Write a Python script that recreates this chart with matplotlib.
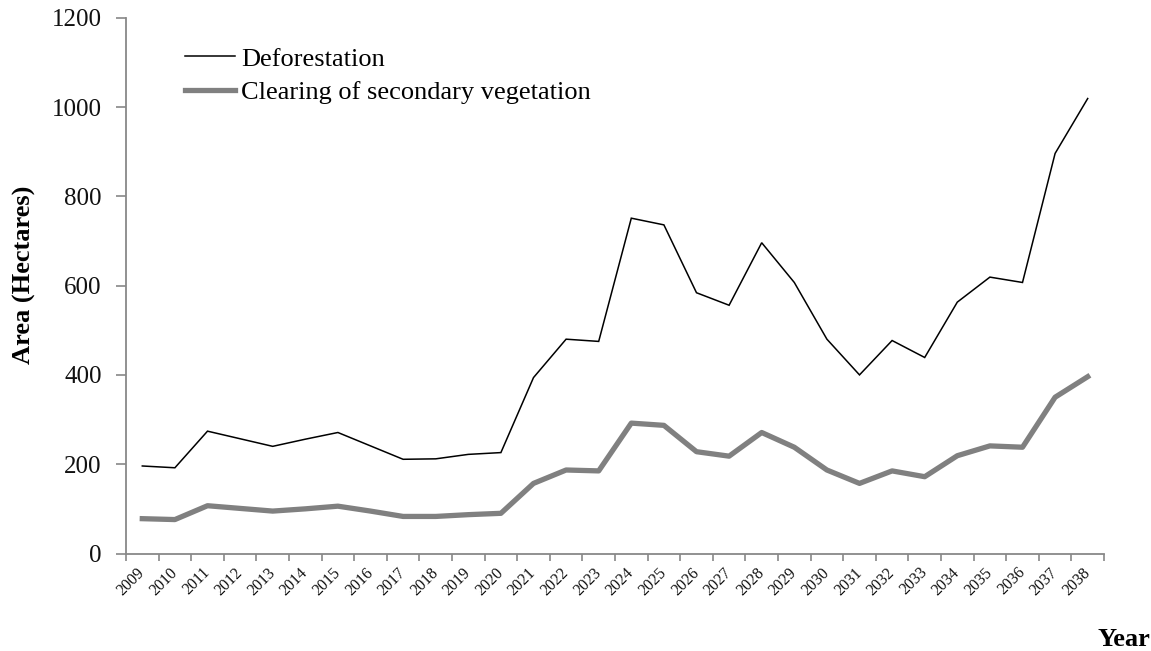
import matplotlib
matplotlib.use("Agg")
import matplotlib.pyplot as plt
import numpy as np

years = [str(y) for y in range(2009, 2039)]
deforestation = [196, 192, 274, 257, 240, 256, 271, 241, 211, 212, 222, 226,
                 394, 480, 475, 751, 736, 584, 556, 696, 607, 480,
                 400, 477, 439, 563, 619, 607, 896, 1019]
clearing = [78, 76, 107, 101, 95, 100, 106, 95, 83, 83, 87, 90,
            157, 187, 185, 292, 287, 228, 218, 271, 238, 187,
            157, 185, 172, 219, 241, 238, 350, 396]
yticks = [0, 200, 400, 600, 800, 1000, 1200]

plt.rcParams['font.family'] = ['Liberation Serif', 'DejaVu Serif']

W, H = 1151, 651
fig = plt.figure(figsize=(W / 100, H / 100), dpi=100)
left, right = 126 / W, 1104 / W
bottom = (H - 553.5) / H
top = (H - 17.7) / H
ax = fig.add_axes([left, bottom, right - left, top - bottom])

x = np.arange(len(years))
ax.plot(x, deforestation, color='black', lw=1.1, label='Deforestation', solid_joinstyle='miter')
ax.plot(x, clearing, color='#808080', lw=3.8, label='Clearing of secondary vegetation')

ax.set_xlim(-0.5, len(years) - 0.5)
ax.set_ylim(0, 1200)
ax.set_yticks(yticks)
ax.set_yticklabels([str(v) for v in yticks], fontsize=18, color='#111111')

ax.set_xticks(np.arange(-0.5, len(years), 1))
ax.set_xticklabels([])
ax.set_xticks(x, minor=True)
ax.set_xticklabels(years, minor=True, rotation=45, ha='right', va='center',
                   rotation_mode='anchor', fontsize=11.5, color='#111111')
ax.tick_params(axis='x', which='minor', length=0, pad=12)
ax.tick_params(axis='x', which='major', length=5, width=1.2, color='#888888', direction='out')
ax.tick_params(axis='y', length=7, width=1.2, color='#888888', direction='out', pad=10.5)

for s in ['top', 'right']:
    ax.spines[s].set_visible(False)
for s in ['left', 'bottom']:
    ax.spines[s].set_color('#888888')
    ax.spines[s].set_linewidth(1.3)

ax.set_ylabel('Area (Hectares)', fontsize=19, fontweight='bold', va='center')
ax.yaxis.set_label_coords((24 - 126) / 978, (553.5 - 275) / 535.8)
fig.text(1150 / W, 1 - 639 / H, 'Year', ha='right', va='center', fontsize=19, fontweight='bold')

leg = ax.legend(loc='upper left', bbox_to_anchor=(0.0605, 0.945), frameon=False,
                fontsize=19, handlelength=1.9, handletextpad=0.22, labelspacing=0.38,
                borderpad=0, borderaxespad=0)

fig.savefig('out.png', dpi=100, facecolor='white')
